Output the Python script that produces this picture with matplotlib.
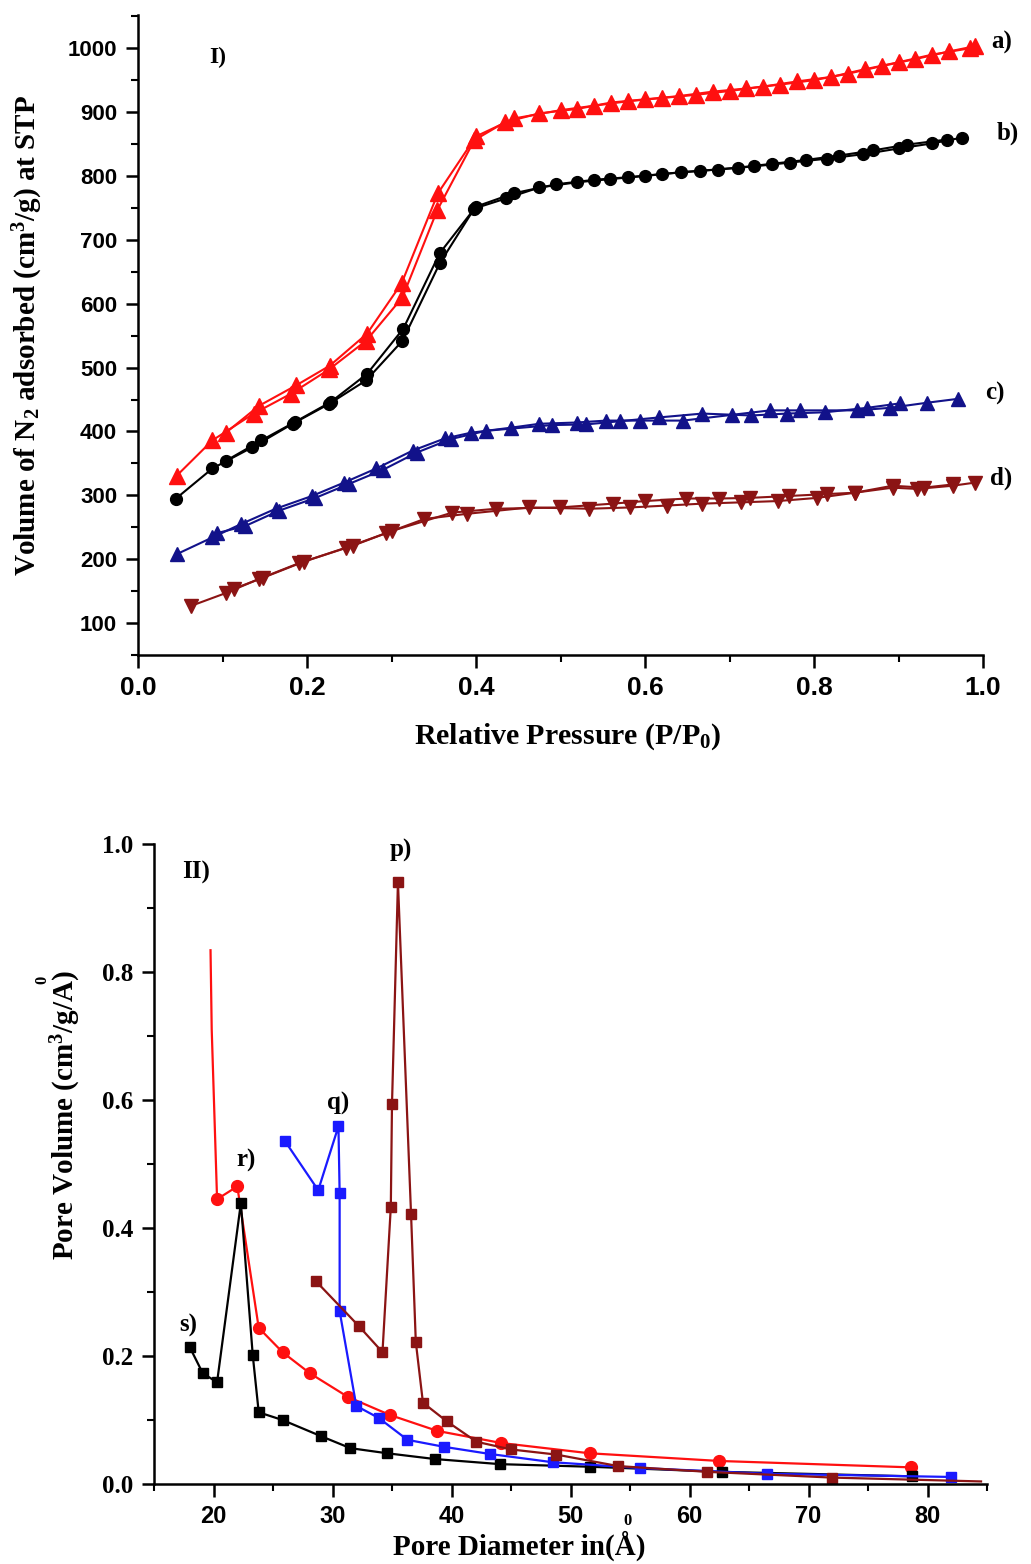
import matplotlib
matplotlib.use('Agg')
import matplotlib.pyplot as plt
from matplotlib.ticker import MultipleLocator

plt.rcParams['mathtext.fontset'] = 'custom'
plt.rcParams['mathtext.rm'] = 'Liberation Serif:bold'
plt.rcParams['mathtext.it'] = 'Liberation Serif:bold:italic'
plt.rcParams['mathtext.bf'] = 'Liberation Serif:bold'
plt.rcParams['mathtext.default'] = 'rm'

# ---- panel I : N2 isotherms (adsorption / desorption branches) ----
a_ads_x = [0.046, 0.088, 0.137, 0.181, 0.226, 0.270, 0.313, 0.354, 0.398, 0.434, 0.475, 0.52,
           0.56, 0.60, 0.64, 0.68, 0.72, 0.76, 0.80, 0.84, 0.88, 0.92, 0.96, 0.99]
a_ads_y = [331, 386, 428, 459, 497, 542, 610, 746, 856, 884, 898, 905,
           915, 920, 925, 932, 937, 943, 950, 960, 972, 983, 995, 1003]
a_des_x = [0.985, 0.94, 0.90, 0.86, 0.82, 0.78, 0.74, 0.70, 0.66, 0.62, 0.58, 0.54, 0.50,
           0.445, 0.40, 0.355, 0.312, 0.271, 0.227, 0.187, 0.143, 0.104]
a_des_y = [1000, 990, 978, 967, 955, 948, 940, 933, 927, 922, 917, 910, 903,
           890, 862, 773, 632, 553, 503, 472, 440, 398]

b_ads_x = [0.045, 0.088, 0.135, 0.183, 0.226, 0.270, 0.313, 0.357, 0.398, 0.436, 0.475, 0.519,
           0.558, 0.600, 0.643, 0.686, 0.729, 0.772, 0.815, 0.858, 0.90, 0.94, 0.975]
b_ads_y = [295, 342, 375, 412, 443, 480, 542, 663, 749, 765, 782, 790,
           795, 800, 806, 810, 815, 821, 827, 834, 843, 851, 860]
b_des_x = [0.957, 0.91, 0.87, 0.83, 0.79, 0.75, 0.71, 0.665, 0.62, 0.58, 0.54, 0.495,
           0.445, 0.40, 0.357, 0.314, 0.271, 0.228, 0.186, 0.146, 0.104]
b_des_y = [857, 849, 840, 832, 825, 819, 813, 808, 803, 798, 794, 787,
           773, 752, 679, 561, 490, 446, 415, 386, 354]

c_ads_x = [0.046, 0.088, 0.122, 0.163, 0.206, 0.244, 0.282, 0.325, 0.363, 0.394, 0.442, 0.475,
           0.519, 0.554, 0.594, 0.645, 0.703, 0.748, 0.783, 0.851, 0.89, 0.934, 0.97]
c_ads_y = [208, 234, 255, 279, 299, 320, 342, 370, 389, 398, 406, 412,
           414, 417, 417, 417, 426, 433, 433, 433, 437, 445, 451]
c_des_x = [0.902, 0.863, 0.813, 0.768, 0.726, 0.668, 0.617, 0.57, 0.53, 0.49, 0.412, 0.37,
           0.33, 0.29, 0.25, 0.21, 0.167, 0.127, 0.094]
c_des_y = [444, 437, 430, 428, 425, 428, 422, 416, 411, 410, 401, 388,
           367, 340, 318, 296, 276, 252, 241]

d_ads_x = [0.063, 0.104, 0.143, 0.191, 0.246, 0.294, 0.339, 0.389, 0.463, 0.534, 0.582, 0.626,
           0.668, 0.714, 0.757, 0.804, 0.848, 0.893, 0.922, 0.964, 0.991]
d_ads_y = [127, 147, 169, 194, 218, 241, 263, 271, 281, 279, 281, 284,
           287, 289, 291, 296, 304, 312, 310, 315, 320]
d_des_x = [0.964, 0.93, 0.893, 0.848, 0.815, 0.771, 0.724, 0.688, 0.649, 0.60, 0.562, 0.499,
           0.424, 0.372, 0.30, 0.254, 0.196, 0.148, 0.114]
d_des_y = [317, 312, 315, 304, 302, 299, 296, 295, 295, 291, 287, 281,
           279, 273, 244, 221, 196, 171, 154]

# ---- panel II : pore size distribution ----
r_x = [19.75, 19.85, 20.3, 22.0, 23.8, 25.8, 28.1, 31.3, 34.8, 38.8, 44.2, 51.6, 62.5, 78.6]
r_y = [0.834, 0.71, 0.445, 0.465, 0.244, 0.206, 0.173, 0.136, 0.108, 0.083, 0.064, 0.048, 0.036, 0.026]

s_x = [18.0, 19.1, 20.3, 22.3, 23.3, 23.8, 25.8, 29.0, 31.5, 34.6, 38.6, 44.1, 51.6, 62.7, 78.7]
s_y = [0.214, 0.173, 0.159, 0.439, 0.201, 0.112, 0.100, 0.075, 0.056, 0.048, 0.039, 0.031, 0.027, 0.019, 0.012]

q_x = [26.0, 28.8, 30.5, 30.6, 30.6, 32.0, 33.9, 36.3, 39.4, 43.2, 48.5, 55.8, 66.5, 82.0]
q_y = [0.536, 0.459, 0.559, 0.454, 0.270, 0.122, 0.103, 0.069, 0.058, 0.047, 0.034, 0.025, 0.016, 0.011]

p_x = [28.6, 32.2, 34.2, 34.9, 35.0, 35.5, 36.6, 37.0, 37.6, 39.6, 42.1, 45.0, 48.8, 54.0, 61.5, 72.0, 84.5]
p_y = [0.317, 0.247, 0.206, 0.433, 0.594, 0.94, 0.422, 0.222, 0.127, 0.098, 0.066, 0.054, 0.046,
       0.028, 0.019, 0.010, 0.004]

W, H = 1031, 1564
fig = plt.figure(figsize=(W / 100, H / 100), dpi=100)


def box(l, t, r, b):
    return [l / W, 1 - b / H, (r - l) / W, (b - t) / H]


def fpos(px, py):
    return px / W, 1 - py / H


serif = 'Liberation Serif'
sans = 'Liberation Sans'

RED = '#ff1010'
NAVY = '#12128a'
DRED = '#8b1414'

ax1 = fig.add_axes(box(138, 15, 983, 655))
ax1.plot(a_ads_x, a_ads_y, color=RED, marker='^', ms=11, lw=1.5)
ax1.plot(a_des_x, a_des_y, color=RED, marker='^', ms=11, lw=1.5)
ax1.plot(b_ads_x, b_ads_y, color='black', marker='o', ms=8.5, lw=1.5)
ax1.plot(b_des_x, b_des_y, color='black', marker='o', ms=8.5, lw=1.5)
ax1.plot(c_ads_x, c_ads_y, color=NAVY, marker='^', ms=10, lw=1.5)
ax1.plot(c_des_x, c_des_y, color=NAVY, marker='^', ms=10, lw=1.5)
ax1.plot(d_ads_x, d_ads_y, color=DRED, marker='v', ms=10, lw=1.5)
ax1.plot(d_des_x, d_des_y, color=DRED, marker='v', ms=10, lw=1.5)
ax1.set_xlim(0, 1.0)
ax1.set_ylim(50, 1052)
ax1.xaxis.set_minor_locator(MultipleLocator(0.1))
ax1.yaxis.set_minor_locator(MultipleLocator(50))
ax1.set_yticks(range(100, 1001, 100))
ax1.set_xticks([0.0, 0.2, 0.4, 0.6, 0.8, 1.0])
ax1.set_xticklabels(['0.0', '0.2', '0.4', '0.6', '0.8', '1.0'], family=sans, weight='bold', fontsize=19)
ax1.set_yticklabels([str(v) for v in range(100, 1001, 100)], family=sans, weight='bold', fontsize=16)
for t, lab in [((1.010, 1009), 'a)'), ((1.016, 867), 'b)'), ((1.003, 459), 'c)'), ((1.008, 327), 'd)')]:
    ax1.text(t[0], t[1], lab, family=serif, weight='bold', fontsize=18, va='center', ha='left', clip_on=False)
ax1.text(0.094, 986, 'I)', family=serif, weight='bold', fontsize=17, va='center', ha='center')

ax2 = fig.add_axes(box(154, 844, 987, 1484))
ax2.plot(r_x, r_y, color=RED, marker='o', ms=8.5, lw=1.6, markevery=list(range(2, len(r_x))))
ax2.plot(s_x, s_y, color='black', marker='s', ms=7.5, lw=1.6)
ax2.plot(q_x, q_y, color='#1a1aff', marker='s', ms=7.5, lw=1.6)
ax2.plot(p_x, p_y, color=DRED, marker='s', ms=7.5, lw=1.6, markevery=list(range(len(p_x) - 1)))
ax2.set_xlim(15, 85)
ax2.set_ylim(0, 1.0)
ax2.xaxis.set_minor_locator(MultipleLocator(5))
ax2.yaxis.set_minor_locator(MultipleLocator(0.1))
ax2.set_xticks(range(20, 81, 10))
ax2.set_xticklabels([str(v) for v in range(20, 81, 10)], family=sans, weight='bold', fontsize=17)
ax2.set_yticks([0.0, 0.2, 0.4, 0.6, 0.8, 1.0])
ax2.set_yticklabels(['0.0', '0.2', '0.4', '0.6', '0.8', '1.0'], family=serif, weight='bold', fontsize=18)
for xy, lab in [((18.5, 0.956), 'II)'), ((35.7, 0.99), 'p)'), ((30.5, 0.595), 'q)'),
                ((22.7, 0.506), 'r)'), ((17.9, 0.248), 's)')]:
    ax2.text(xy[0], xy[1], lab, family=serif, weight='bold', fontsize=18, va='center', ha='center')

for ax in (ax1, ax2):
    ax.spines['top'].set_visible(False)
    ax.spines['right'].set_visible(False)
    ax.spines['left'].set_linewidth(1.8)
    ax.spines['bottom'].set_linewidth(1.8)
    ax.tick_params(which='major', direction='out', length=9, width=1.8, pad=6)
    ax.tick_params(which='minor', direction='out', length=5, width=1.5)

# axis titles
fig.text(*fpos(28, 335), 'Volume of N$_2$ adsorbed (cm$^3$/g) at STP', rotation=90,
         family=serif, weight='bold', fontsize=21, ha='center', va='center')
fig.text(*fpos(568, 737), 'Relative Pressure (P/P$_0$)', family=serif, weight='bold',
         fontsize=21.5, ha='center', va='center')
fig.text(*fpos(66, 1115), 'Pore Volume (cm$^3$/g/A)', rotation=90,
         family=serif, weight='bold', fontsize=21, ha='center', va='center')
fig.text(*fpos(42, 980), '0', family=serif, weight='bold', fontsize=12, ha='center', va='center',
         rotation=90)
fig.text(*fpos(519, 1546), 'Pore Diameter in(Å)', family=serif, weight='bold', fontsize=21,
         ha='center', va='center')
fig.text(*fpos(627, 1521), '0', family=serif, weight='bold', fontsize=12, ha='center', va='center')

fig.savefig('out.png', dpi=100)
